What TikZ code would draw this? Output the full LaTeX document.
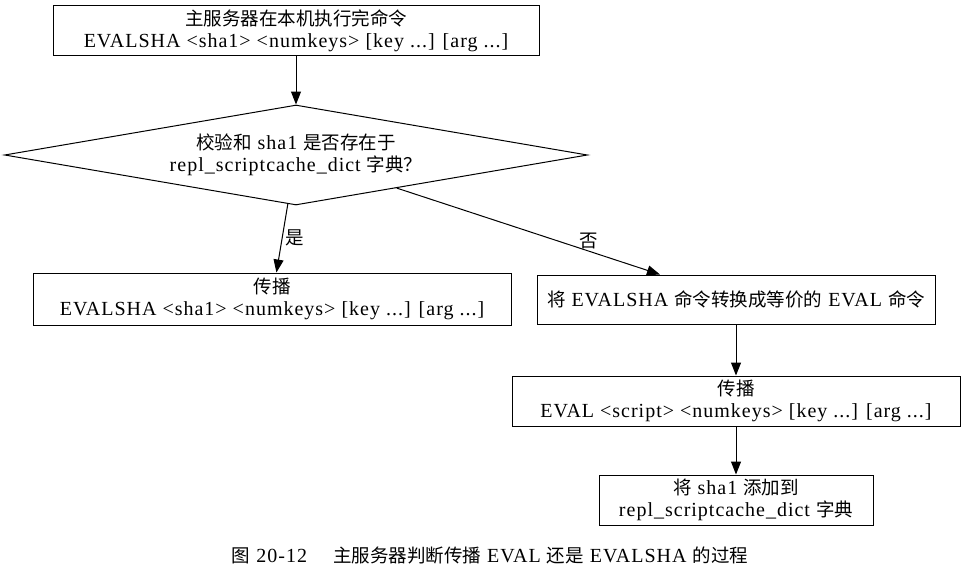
\documentclass[tikz,border=0pt]{standalone}
\usepackage{fontspec}
\setmainfont{Liberation Serif}[LetterSpace=5]
\newfontfamily\cjkf{Noto Sans CJK SC}
\newcommand{\cjk}{\cjkf\fontsize{18.5}{22}\selectfont}
\usetikzlibrary{shapes.geometric,arrows.meta}
\begin{document}
\begin{tikzpicture}[x=1pt,y=-1pt,
  every node/.style={font=\fontsize{20}{22}\selectfont, align=center, inner sep=0pt},
  box/.style={draw, line width=1pt},
  arr/.style={-{Triangle[length=13pt,width=10pt]}, line width=1pt},
  lbl/.style={font=\fontsize{20}{22}\selectfont}]
\useasboundingbox (0,0) rectangle (965,583);
\node[box, minimum width=486, minimum height=50] (top) at (296,31)
  {{\cjk 主服务器在本机执行完命令}\\EVALSHA <sha1> <numkeys> [key ...] [arg ...]};
\node[draw, line width=1pt, diamond, aspect=5.83, minimum width=583, minimum height=100] (dec) at (296,155)
  {{\cjk 校验和} sha1 {\cjk 是否存在于}\\repl\_scriptcache\_dict {\cjk 字典？}};
\node[box, minimum width=478, minimum height=52] (left) at (272,299)
  {{\cjk 传播}\\EVALSHA <sha1> <numkeys> [key ...] [arg ...]};
\node[box, minimum width=398, minimum height=49] (conv) at (736,299.5)
  {{\cjk 将} EVALSHA {\cjk 命令转换成等价的} EVAL {\cjk 命令}};
\node[box, minimum width=448, minimum height=50] (eval) at (736,401)
  {{\cjk 传播}\\EVAL <script> <numkeys> [key ...] [arg ...]};
\node[box, minimum width=274, minimum height=50] (add) at (736,500)
  {{\cjk 将} sha1 {\cjk 添加到}\\repl\_scriptcache\_dict {\cjk 字典}};
\node (cap) at (490,555) {{\cjk 图} 20-12\quad\ {\cjk 主服务器判断传播} EVAL {\cjk 还是} EVALSHA {\cjk 的过程}};
\draw[arr] (top) -- (dec);
\draw[arr] (dec) -- node[lbl, pos=0.5, right=3pt] {\cjk 是} (left);
\draw[arr] (dec) -- node[lbl, pos=0.73, above=2pt] {\cjk 否} (conv);
\draw[arr] (conv) -- (eval);
\draw[arr] (eval) -- (add);
\end{tikzpicture}
\end{document}
